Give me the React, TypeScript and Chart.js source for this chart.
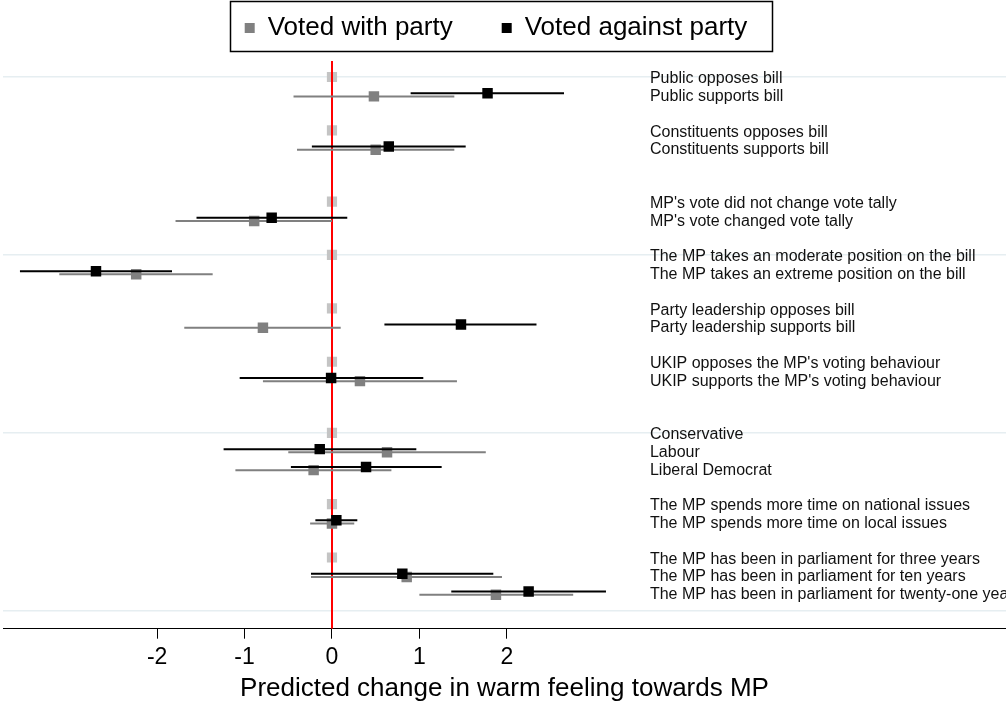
import React, { useEffect, useRef } from "react";
import { Chart, registerables } from "chart.js";

Chart.register(...registerables);

// ---------- data ----------
const ROW_LABELS = [
  "Public opposes bill",
  "Public supports bill",
  "Constituents opposes bill",
  "Constituents supports bill",
  "MP's vote did not change vote tally",
  "MP's vote changed vote tally",
  "The MP takes an moderate position on the bill",
  "The MP takes an extreme position on the bill",
  "Party leadership opposes bill",
  "Party leadership supports bill",
  "UKIP opposes the MP's voting behaviour",
  "UKIP supports the MP's voting behaviour",
  "Conservative",
  "Labour",
  "Liberal Democrat",
  "The MP spends more time on national issues",
  "The MP spends more time on local issues",
  "The MP has been in parliament for three years",
  "The MP has been in parliament for ten years",
  "The MP has been in parliament for twenty-one years",
];
const ROW_POS = [0, 1, 3, 4, 7, 8, 10, 11, 13, 14, 16, 17, 20, 21, 22, 24, 25, 27, 28, 29];

// reference (baseline) categories
const BASE_POS = [0, 3, 7, 10, 13, 16, 20, 24, 27];
const BASE_VALUES = [0, 0, 0, 0, 0, 0, 0, 0, 0];

// estimated categories
const EST_POS = [1, 4, 8, 11, 14, 17, 21, 22, 25, 28, 29];

const WITH_EST = [0.48, 0.5, -0.89, -2.24, -0.79, 0.32, 0.63, -0.21, 0.0, 0.855, 1.876];
const WITH_LO = [-0.44, -0.4, -1.79, -3.12, -1.69, -0.79, -0.5, -1.105, -0.25, -0.24, 1.0];
const WITH_HI = [1.4, 1.4, 0.0, -1.365, 0.1, 1.43, 1.76, 0.68, 0.255, 1.945, 2.76];

const AGAINST_EST = [1.78, 0.65, -0.69, -2.7, 1.476, -0.01, -0.14, 0.39, 0.05, 0.805, 2.25];
const AGAINST_LO = [0.9, -0.23, -1.55, -3.57, 0.6, -1.056, -1.24, -0.47, -0.19, -0.24, 1.365];
const AGAINST_HI = [2.655, 1.53, 0.175, -1.83, 2.34, 1.045, 0.965, 1.255, 0.29, 1.846, 3.135];

const SERIES_LABELS = ["Voted with party", "Voted against party"];
const X_TICKS = [-2, -1, 0, 1, 2];
const Y_GRID = [0, 10, 20, 30];
const X_TITLE = "Predicted change in warm feeling towards MP";

// ---------- layout / style constants ----------
const X_MIN = -3.764;
const X_MAX = 7.712;
const Y_MIN = -1.46;
const Y_MAX = 31;
const REF_X = 0;
const REF_TOP = -0.9;
const OFFSET_WITH = 0.09;
const OFFSET_AGAINST = -0.09;
const LABEL_X = 3.638;
const LABEL_DY = 0.1;

const FONT = "'Liberation Sans', Arial, Helvetica, sans-serif";
const GRAY = "#808080";
const BLACK = "#000000";
const LIGHT = "#c4c4c4";
const GRID = "#e6eef1";

function ciSegments(pos: number[], lo: number[], hi: number[], off: number) {
  const out: any[] = [];
  pos.forEach((p, i) => {
    out.push({ x: lo[i], y: p + off });
    out.push({ x: hi[i], y: p + off });
    out.push({ x: null, y: null });
  });
  return out;
}

function points(pos: number[], vals: number[], off: number) {
  return pos.map((p, i) => ({ x: vals[i], y: p + off }));
}

const rowLabelsPlugin = {
  id: "rowLabels",
  afterDatasetsDraw(chart: any) {
    const { ctx, scales } = chart;
    const xs = scales.x;
    const ys = scales.y;
    ctx.save();
    ctx.font = `16px ${FONT}`;
    ctx.fillStyle = "#111111";
    ctx.textAlign = "left";
    ctx.textBaseline = "middle";
    const px = xs.getPixelForValue(LABEL_X);
    ROW_LABELS.forEach((t, i) => {
      ctx.fillText(t, px, ys.getPixelForValue(ROW_POS[i] + LABEL_DY));
    });
    ctx.restore();
  },
};

const legendBorderPlugin = {
  id: "legendBorder",
  afterDraw(chart: any) {
    const lg = chart.legend;
    if (!lg || !lg.legendHitBoxes || !lg.legendHitBoxes.length) return;
    const hb = lg.legendHitBoxes;
    const first = hb[0];
    const last = hb[hb.length - 1];
    const cy = first.top + first.height / 2;
    const x0 = first.left - 15;
    const x1 = last.left + last.width + 24;
    const ctx = chart.ctx;
    ctx.save();
    ctx.strokeStyle = "#000";
    ctx.lineWidth = 1.5;
    ctx.strokeRect(Math.round(x0) + 0.5, Math.round(cy - 27) + 0.5, Math.round(x1 - x0), 50);
    ctx.restore();
  },
};

export default function App() {
  const ref = useRef<HTMLCanvasElement | null>(null);

  useEffect(() => {
    document.body.style.margin = "0";
    const canvas = ref.current;
    if (!canvas) return;

    const datasets: any[] = [
      {
        type: "scatter",
        label: SERIES_LABELS[0],
        data: points(EST_POS, WITH_EST, OFFSET_WITH),
        backgroundColor: GRAY,
        borderColor: GRAY,
        borderWidth: 0,
        pointBorderWidth: 0,
        pointStyle: "rect",
        pointRadius: 7.4,
        order: 2,
      },
      {
        type: "scatter",
        label: SERIES_LABELS[1],
        data: points(EST_POS, AGAINST_EST, OFFSET_AGAINST),
        backgroundColor: BLACK,
        borderColor: BLACK,
        borderWidth: 0,
        pointBorderWidth: 0,
        pointStyle: "rect",
        pointRadius: 7.4,
        order: 0,
      },
      {
        type: "line",
        label: SERIES_LABELS[0] + " CI",
        data: ciSegments(EST_POS, WITH_LO, WITH_HI, OFFSET_WITH),
        borderColor: GRAY,
        borderWidth: 2,
        pointRadius: 0,
        spanGaps: false,
        tension: 0,
        fill: false,
        order: 3,
      },
      {
        type: "line",
        label: SERIES_LABELS[1] + " CI",
        data: ciSegments(EST_POS, AGAINST_LO, AGAINST_HI, OFFSET_AGAINST),
        borderColor: BLACK,
        borderWidth: 2,
        pointRadius: 0,
        spanGaps: false,
        tension: 0,
        fill: false,
        order: 1,
      },
      {
        type: "line",
        label: "zero",
        data: [
          { x: REF_X, y: REF_TOP },
          { x: REF_X, y: Y_MAX },
        ],
        borderColor: "#ff0000",
        borderWidth: 2,
        pointRadius: 0,
        fill: false,
        order: 4,
      },
      {
        type: "scatter",
        label: "baseline",
        data: points(BASE_POS, BASE_VALUES, 0),
        backgroundColor: LIGHT,
        borderColor: LIGHT,
        borderWidth: 0,
        pointBorderWidth: 0,
        pointStyle: "rect",
        pointRadius: 7.2,
        order: 5,
      },
    ];

    const chart = new Chart(canvas, {
      type: "scatter",
      data: { datasets },
      options: {
        animation: false,
        responsive: false,
        events: [],
        layout: { autoPadding: false, padding: { top: -34, left: -14, right: 0, bottom: 1 } },
        scales: {
          x: {
            type: "linear",
            min: X_MIN,
            max: X_MAX,
            afterBuildTicks: (s: any) => {
              s.ticks = X_TICKS.map((v) => ({ value: v }));
            },
            grid: {
              drawOnChartArea: false,
              drawTicks: true,
              tickLength: 10,
              color: "#000",
              lineWidth: 1,
            },
            border: { display: true, color: "#000", width: 1 },
            ticks: {
              color: "#000",
              font: { family: FONT, size: 23 },
              padding: 5,
              maxRotation: 0,
              autoSkip: false,
              callback: (v: any) => String(v),
            },
            title: {
              display: true,
              text: X_TITLE,
              color: "#000",
              font: { family: FONT, size: 26, lineHeight: 0.95 },
              padding: { top: 0, bottom: 0 },
            },
          },
          y: {
            type: "linear",
            reverse: true,
            min: Y_MIN,
            max: Y_MAX,
            afterBuildTicks: (s: any) => {
              s.ticks = Y_GRID.map((v) => ({ value: v }));
            },
            afterFit: (s: any) => {
              s.width = 17;
            },
            grid: { drawTicks: false, color: GRID, lineWidth: 1.5 },
            border: { display: false },
            ticks: { display: false },
          },
        },
        plugins: {
          tooltip: { enabled: false },
          legend: {
            display: true,
            position: "top",
            align: "center",
            labels: {
              boxWidth: 10,
              boxHeight: 10,
              padding: 49,
              color: "#000",
              font: { family: FONT, size: 26 },
              filter: (item: any) => item.datasetIndex < 2,
              sort: (a: any, b: any) => a.datasetIndex - b.datasetIndex,
            },
          },
        },
      } as any,
      plugins: [rowLabelsPlugin, legendBorderPlugin],
    });

    return () => chart.destroy();
  }, []);

  return <canvas ref={ref} width={1006} height={702} style={{ display: "block" }} />;
}
